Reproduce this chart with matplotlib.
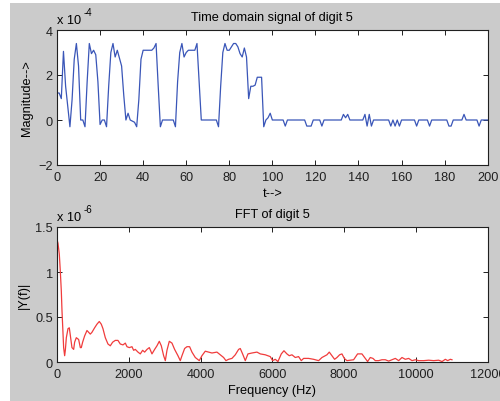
import matplotlib
matplotlib.use("Agg")
import matplotlib.pyplot as plt
from matplotlib.patches import Rectangle

# ---- data ----
t_signal = list(range(0, 201))
signal_e4 = [
    1.2, 1.2, 0.95, 3.05, 1.5, 0.6, -0.3, 0.9, 2.7, 3.4,      # 0-9
    2.4, 0.0, 0.0, -0.3, 1.7, 3.4, 2.95, 3.1, 2.9, 1.7,       # 10-19
    -0.2, 0.0, 0.0, -0.3, 1.5, 3.0, 3.4, 2.8, 3.1, 2.75,      # 20-29
    2.4, 1.1, 0.0, 0.3, 0.0, -0.05, -0.1, -0.3, 0.9, 2.7,     # 30-39
    3.1, 3.1, 3.1, 3.1, 3.1, 3.2, 3.4, 1.5, -0.3, 0.0,        # 40-49
    0.0, 0.0, 0.0, 0.0, 0.0, -0.3, 1.7, 3.0, 3.4, 2.8,        # 50-59
    3.0, 3.1, 3.1, 3.1, 3.1, 3.4, 1.7, 0.0, 0.0, 0.0,         # 60-69
    0.0, 0.0, 0.0, 0.0, 0.0, -0.3, 1.5, 3.0, 3.4, 3.1,        # 70-79
    3.1, 3.25, 3.4, 3.4, 3.25, 2.95, 2.8, 3.2, 2.8, 0.95,     # 80-89
    1.5, 1.5, 1.55, 1.9, 1.9, 1.9, -0.3, 0.0, 0.1, 0.3,       # 90-99
    0.0, 0.0, 0.0, 0.0, 0.0, 0.0, -0.27, 0.0, 0.0, 0.0,       # 100-109
    0.0, 0.0, 0.0, 0.0, 0.0, 0.0, -0.27, -0.27, -0.27, 0.0,   # 110-119
    0.0, 0.0, 0.0, -0.27, 0.0, 0.0, 0.0, 0.0, 0.0, 0.0,       # 120-129
    0.0, 0.0, 0.0, 0.25, 0.1, 0.25, 0.0, 0.0, 0.0, 0.0,       # 130-139
    0.0, 0.0, 0.0, 0.25, -0.27, 0.25, -0.27, 0.0, 0.0, 0.0,   # 140-149
    0.0, 0.0, 0.0, 0.0, 0.0, -0.27, 0.0, -0.27, 0.0, -0.27,   # 150-159
    0.0, 0.0, 0.0, 0.0, 0.0, 0.0, 0.0, -0.27, 0.0, 0.0,       # 160-169
    0.0, 0.0, 0.0, -0.27, 0.0, 0.0, 0.0, 0.0, 0.0, 0.0,       # 170-179
    0.0, 0.0, -0.27, -0.27, 0.0, 0.0, 0.0, 0.0, 0.0, 0.25,    # 180-189
    0.0, 0.0, 0.0, 0.0, 0.0, 0.0, -0.27, 0.0, 0.0, 0.0,       # 190-199
    0.0,                                                      # 200
]

fft_freq = [
    0, 27, 64, 92, 120, 139, 167, 185, 213, 232, 260, 306, 343, 380, 417,
    464, 491, 538, 603, 650, 677, 714, 770, 835, 881, 928, 974, 1048, 1113,
    1178, 1234, 1281, 1346, 1420, 1485, 1550, 1624, 1698, 1763, 1838, 1903,
    1950, 2015, 2089, 2135, 2182, 2256, 2321, 2386, 2442, 2507, 2572, 2646,
    2720, 2785, 2850, 2906, 2971, 3018, 3064, 3129, 3203, 3277, 3370, 3435,
    3482, 3556, 3621, 3695, 3760, 3853, 3964, 4038, 4131, 4224, 4317, 4456,
    4549, 4642, 4707, 4781, 4874, 4967, 5060, 5106, 5171, 5246, 5320, 5431,
    5571, 5664, 5803, 5942, 6007, 6081, 6156, 6249, 6323, 6406, 6471, 6546,
    6639, 6731, 6806, 6871, 7010, 7149, 7289, 7382, 7521, 7586, 7660, 7734,
    7800, 7874, 7939, 8004, 8078, 8171, 8264, 8375, 8496, 8589, 8654, 8728,
    8803, 8868, 8961, 9054, 9147, 9240, 9333, 9426, 9519, 9612, 9705, 9798,
    9891, 9984, 10077, 10216, 10355, 10495, 10634, 10727, 10820, 10885,
    10959, 11005,
]
fft_mag_e6 = [
    1.36, 1.32, 1.2, 1.01, 0.79, 0.57, 0.31, 0.16, 0.07, 0.13, 0.27, 0.37,
    0.38, 0.27, 0.16, 0.14, 0.22, 0.27, 0.25, 0.16, 0.16, 0.22, 0.29, 0.35,
    0.33, 0.31, 0.33, 0.38, 0.42, 0.45, 0.42, 0.37, 0.27, 0.2, 0.18, 0.22,
    0.24, 0.24, 0.2, 0.19, 0.21, 0.17, 0.16, 0.17, 0.13, 0.14, 0.11, 0.09,
    0.13, 0.11, 0.14, 0.16, 0.09, 0.14, 0.18, 0.23, 0.18, 0.07, 0.015, 0.13,
    0.23, 0.21, 0.14, 0.07, 0.015, 0.07, 0.15, 0.17, 0.17, 0.11, 0.05,
    0.015, 0.07, 0.12, 0.11, 0.1, 0.11, 0.08, 0.05, 0.015, 0.03, 0.04,
    0.08, 0.14, 0.15, 0.09, 0.015, 0.09, 0.1, 0.11, 0.09, 0.08, 0.06,
    0.015, 0.03, 0.005, 0.09, 0.125, 0.09, 0.07, 0.08, 0.05, 0.06, 0.015,
    0.04, 0.04, 0.03, 0.015, 0.05, 0.08, 0.11, 0.07, 0.03, 0.05, 0.08,
    0.09, 0.04, 0.015, 0.02, 0.025, 0.09, 0.09, 0.04, 0.005, 0.05, 0.04,
    0.015, 0.015, 0.025, 0.025, 0.01, 0.025, 0.04, 0.015, 0.05, 0.03, 0.04,
    0.015, 0.025, 0.015, 0.015, 0.02, 0.015, 0.02, 0.005, 0.03, 0.015,
    0.03, 0.025,
]

top_xticks = [0, 20, 40, 60, 80, 100, 120, 140, 160, 180, 200]
top_yticks = [-2, 0, 2, 4]
bot_xticks = [0, 2000, 4000, 6000, 8000, 10000, 12000]
bot_yticks = [0, 0.5, 1, 1.5]
bot_ytick_labels = ["0", "0.5", "1", "1.5"]

# ---- style ----
FS = 9.2
plt.rcParams['font.family'] = ['Liberation Sans', 'DejaVu Sans']
plt.rcParams['font.size'] = FS

W, H = 500, 402
fig = plt.figure(figsize=(5.0, 4.02), dpi=100, facecolor='white')
fig.patches.append(Rectangle((10 / W, 0), 1, (H - 4) / H, transform=fig.transFigure,
                             facecolor='#cbcbcb', edgecolor='none', zorder=-10))


def px_axes(left, top, right, bottom):
    return [left / W, 1 - bottom / H, (right - left) / W, (bottom - top) / H]


def style(ax):
    ax.set_facecolor('white')
    for s in ax.spines.values():
        s.set_linewidth(0.8)
        s.set_color('#202020')
    ax.tick_params(direction='in', top=True, right=True, length=3.5, width=0.7,
                   labelsize=FS, colors='#202020')
    ax.tick_params(axis='x', pad=4.5)
    ax.tick_params(axis='y', pad=3)


ax1 = fig.add_axes(px_axes(57, 31, 487.7, 166))
style(ax1)
ax1.plot(t_signal, signal_e4, color='#3a56b8', lw=0.9)
ax1.set_xlim(0, 200)
ax1.set_ylim(-2, 4)
ax1.set_xticks(top_xticks)
ax1.set_yticks(top_yticks)
ax1.set_title("Time domain signal of digit 5", fontsize=FS, pad=7)
ax1.set_xlabel("t-->", labelpad=3)
ax1.set_ylabel("Magnitude-->", labelpad=4)
fig.text(57 / W, 1 - 26.5 / H, "x 10", fontsize=FS, va='bottom', ha='left')
fig.text(84 / W, 1 - 18 / H, "-4", fontsize=7, va='bottom', ha='left')

ax2 = fig.add_axes(px_axes(57, 228, 487.7, 363))
style(ax2)
ax2.plot(fft_freq, fft_mag_e6, color='#f03c3c', lw=0.9)
ax2.set_xlim(0, 12000)
ax2.set_ylim(0, 1.5)
ax2.set_xticks(bot_xticks)
ax2.set_yticks(bot_yticks)
ax2.set_yticklabels(bot_ytick_labels)
ax2.set_title("FFT of digit 5", fontsize=FS, pad=7)
ax2.set_xlabel("Frequency (Hz)", labelpad=3)
ax2.set_ylabel("|Y(f)|", labelpad=4)
fig.text(57 / W, 1 - 224 / H, "x 10", fontsize=FS, va='bottom', ha='left')
fig.text(84 / W, 1 - 215.5 / H, "-6", fontsize=7, va='bottom', ha='left')

fig.savefig("out.png", dpi=100, facecolor=fig.get_facecolor())
